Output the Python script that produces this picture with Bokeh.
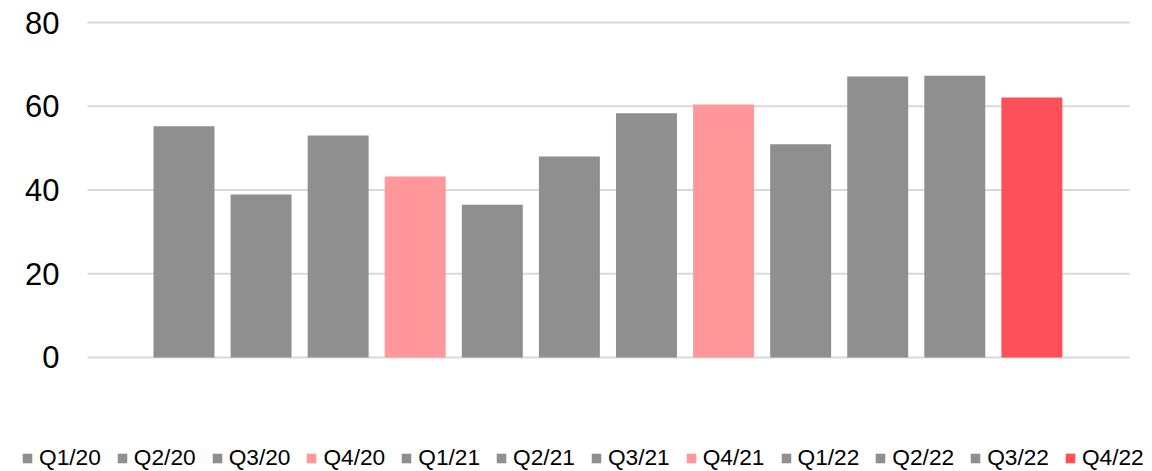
from bokeh.plotting import figure
from bokeh.models import ColumnDataSource, Range1d, Legend, LegendItem
from bokeh.core.properties import value
from bokeh.embed import file_html
from bokeh.resources import INLINE

quarters = ["Q1/20", "Q2/20", "Q3/20", "Q4/20", "Q1/21", "Q2/21",
            "Q3/21", "Q4/21", "Q1/22", "Q2/22", "Q3/22", "Q4/22"]
values = [55.2, 38.9, 53.0, 43.2, 36.5, 48.0, 58.3, 60.4, 50.9, 67.1, 67.3, 62.1]
colors = ["#8F8F8F", "#8F8F8F", "#8F8F8F", "#FF979B", "#8F8F8F", "#8F8F8F",
          "#8F8F8F", "#FF979B", "#8F8F8F", "#8F8F8F", "#8F8F8F", "#FF505A"]
y_ticks = [0, 20, 40, 60, 80]
y_labels = ["0", "20", "40", "60", "80"]

FONT = "Liberation Sans"

# layout constants (in data units of the scales)
X_START, X_END = -2.3806, 12.565      # visible category-index range
GRID_LO, GRID_HI = -1.252, 12.27      # horizontal extent of the value grid
Y_START, Y_END = -27.224, 85.254      # visible value range

idx = list(range(len(quarters)))
src = ColumnDataSource(dict(x=idx, q=quarters, v=values, c=colors))
grid_src = ColumnDataSource(dict(y=y_ticks, t=y_labels,
                                 x0=[GRID_LO] * len(y_ticks),
                                 x1=[GRID_HI] * len(y_ticks)))

p = figure(x_range=Range1d(X_START, X_END), y_range=Range1d(Y_START, Y_END),
           width=1152, height=471, output_backend="svg", toolbar_location=None,
           x_axis_location=None, y_axis_location=None,
           min_border_left=0, min_border_right=0, min_border_top=0,
           min_border_bottom=0)
p.outline_line_color = None
p.xgrid.visible = False
p.ygrid.visible = False

# value grid lines and their labels
p.segment(x0="x0", x1="x1", y0="y", y1="y", source=grid_src,
          line_color="#d9d9d9", line_width=2)
p.text(x="x0", y="y", text="t", source=grid_src, x_offset=-28,
       text_align="right", text_baseline="middle",
       text_font=value(FONT), text_font_size="31px", text_color="#000000")

# bars
r = p.vbar(x="x", top="v", bottom=0, width=0.791, source=src,
           fill_color="c", line_color=None)

items = [LegendItem(label=q, renderers=[r], index=i) for i, q in enumerate(quarters)]
legend = Legend(items=items, orientation="horizontal", location=(21, 0),
                padding=0, margin=0, spacing=15, label_standoff=6,
                glyph_width=12, glyph_height=12, label_height=14,
                label_text_font=FONT, label_text_font_size="22.7px",
                label_text_color="#000000", border_line_color=None,
                background_fill_alpha=0)
p.add_layout(legend)

open("out.html", "w").write(file_html(p, INLINE))
